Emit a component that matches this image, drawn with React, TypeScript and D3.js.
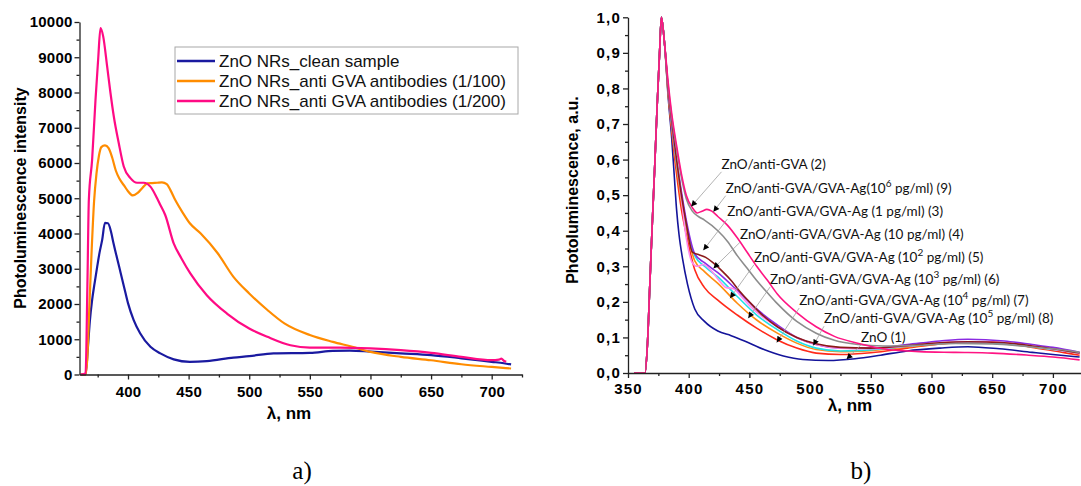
import React, { useEffect, useRef } from 'react';
import * as d3 from 'd3';

const W = 1081;
const H = 486;

// ---- panel a) : raw PL intensity, [wavelength nm, intensity]
const cleanSample = [
    [361, 0], [365, 0], [367, 800], [368.5, 1500], [370.4, 2110], [372.5, 2600], [374.6, 3060], [376.5, 3450],
    [378.7, 3820], [381, 4300], [383.5, 4290], [386, 4050], [388, 3730], [391, 3300], [394, 2875], [397, 2450],
    [400, 2025], [404.7, 1545], [410, 1170], [418.5, 785], [426.7, 600], [437.7, 430], [451, 360], [465, 380],
    [487, 480], [500, 520], [520, 600], [550, 615], [569, 670], [583, 680], [600, 650], [625, 600], [650, 550],
    [675, 460], [700, 360], [710, 320], [716, 285]
];
const antiGva100 = [
    [361, 0], [365, 0], [366.5, 500], [368, 1800], [370, 3500], [372, 4900], [374, 5700], [376, 6200], [378, 6450],
    [381, 6500], [384, 6420], [387, 6150], [390, 5780], [393, 5550], [397, 5350], [400, 5200], [404, 5080],
    [408, 5150], [412, 5300], [416, 5420], [420, 5430], [424, 5440], [428, 5450], [432, 5400], [435, 5230],
    [439, 4950], [445, 4600], [451, 4290], [460, 4000], [474, 3440], [487, 2770], [500, 2300], [515, 1830],
    [529, 1450], [550, 1120], [569, 925], [585, 785], [600, 640], [625, 500], [650, 405], [675, 290], [700, 215],
    [716, 170]
];
const antiGva200 = [
    [361, 0], [365, 30], [366.5, 2500], [367.7, 4950], [370.4, 6090], [373.2, 7790], [375.5, 9000], [377.3, 9830],
    [379.5, 9600], [382.8, 8740], [385.5, 8000], [388.3, 7320], [392.4, 6560], [396.5, 5900], [402, 5570],
    [407.5, 5440], [413, 5440], [418.5, 5330], [424, 5000], [426.7, 4810], [430.7, 4525], [437.7, 3720],
    [444, 3300], [451.4, 2870], [465, 2250], [481.6, 1730], [500, 1305], [515, 1070], [534, 830], [550, 765],
    [575, 765], [600, 740], [625, 690], [650, 615], [675, 500], [700, 405], [706, 420], [708, 450], [710, 390],
    [712, 360]
];
const seriesA = [cleanSample, antiGva100, antiGva200];
const legendA = ['ZnO NRs_clean sample', 'ZnO NRs_anti GVA antibodies (1/100)', 'ZnO NRs_anti GVA antibodies (1/200)'];
const colorsA = ['#1a1aa0', '#ff8c00', '#ff0a84'];
const xTicksA = [400, 450, 500, 550, 600, 650, 700];
const xMinorA = [375, 425, 475, 525, 575, 625, 675, 725];
const yTicksA = [0, 1000, 2000, 3000, 4000, 5000, 6000, 7000, 8000, 9000, 10000];
const yMinorA = [500, 1500, 2500, 3500, 4500, 5500, 6500, 7500, 8500, 9500];

// ---- panel b) : normalised PL, [wavelength nm, a.u.]
const rise = [[355, 0], [364, 0], [366, 0.08], [368, 0.25], [370, 0.42], [372, 0.58], [374, 0.75], [376, 0.9], [377.5, 1.0], [380, 0.93]];
const zno1 = [...rise, [383, 0.78], [386, 0.66], [388, 0.56], [390, 0.46], [392, 0.39], [395, 0.32], [399, 0.25], [405, 0.18], [413, 0.145], [424, 0.118], [435, 0.105], [446, 0.09], [462, 0.066], [478, 0.048], [494, 0.038], [515, 0.035], [537, 0.04], [558, 0.05], [580, 0.062], [607, 0.07], [630, 0.074], [656, 0.068], [683, 0.058], [700, 0.052], [722, 0.045]];
const redCurve = [...rise, [383, 0.79], [386, 0.68], [390, 0.56], [394, 0.46], [398, 0.39], [405, 0.29], [413, 0.24], [424, 0.205], [440, 0.163], [456, 0.126], [473, 0.093], [489, 0.07], [505, 0.056], [525, 0.052], [550, 0.057], [580, 0.07], [607, 0.082], [630, 0.087], [645, 0.088], [665, 0.083], [683, 0.072], [700, 0.063], [722, 0.05]];
const orangeCurve = [...rise, [383, 0.79], [386, 0.69], [390, 0.58], [394, 0.48], [398, 0.41], [405, 0.315], [413, 0.285], [424, 0.252], [440, 0.196], [456, 0.149], [473, 0.112], [489, 0.084], [505, 0.066], [525, 0.06], [550, 0.063], [580, 0.073], [607, 0.082], [630, 0.086], [660, 0.082], [683, 0.073], [700, 0.066], [722, 0.055]];
const cyanCurve = [...rise, [383, 0.8], [386, 0.7], [390, 0.59], [394, 0.5], [398, 0.42], [405, 0.33], [413, 0.3], [424, 0.27], [440, 0.215], [456, 0.163], [473, 0.122], [489, 0.09], [505, 0.07], [525, 0.062], [550, 0.065], [580, 0.075], [607, 0.083], [630, 0.086], [660, 0.082], [683, 0.074], [700, 0.066], [722, 0.056]];
const purpleCurve = [...rise, [383, 0.8], [386, 0.7], [390, 0.6], [394, 0.51], [398, 0.43], [405, 0.335], [413, 0.31], [424, 0.282], [440, 0.232], [456, 0.18], [473, 0.135], [489, 0.1], [505, 0.08], [525, 0.07], [550, 0.07], [580, 0.08], [607, 0.09], [630, 0.095], [660, 0.09], [683, 0.08], [700, 0.072], [722, 0.058]];
const violetCurve = [...rise, [383, 0.8], [386, 0.71], [390, 0.6], [394, 0.49], [398, 0.38], [403, 0.31], [407, 0.3], [412, 0.305], [418, 0.29], [425, 0.26], [431, 0.24], [437, 0.237], [442, 0.22], [450, 0.19], [460, 0.16], [473, 0.13], [489, 0.1], [505, 0.08], [525, 0.07], [550, 0.068], [580, 0.076], [607, 0.085], [630, 0.088], [660, 0.085], [683, 0.075], [700, 0.067], [722, 0.055]];
const brownCurve = [...rise, [383, 0.8], [386, 0.71], [390, 0.6], [394, 0.5], [398, 0.42], [403, 0.34], [408, 0.333], [414, 0.325], [420, 0.31], [428, 0.285], [435, 0.26], [442, 0.23], [450, 0.2], [460, 0.165], [473, 0.13], [489, 0.1], [505, 0.082], [525, 0.072], [550, 0.07], [580, 0.077], [607, 0.085], [630, 0.088], [660, 0.085], [683, 0.076], [700, 0.068], [722, 0.056]];
const grayCurve = [...rise, [383, 0.81], [386, 0.72], [390, 0.63], [394, 0.55], [398, 0.49], [403, 0.455], [408, 0.44], [413, 0.43], [424, 0.4], [432, 0.37], [440, 0.33], [448, 0.295], [456, 0.26], [465, 0.225], [473, 0.195], [489, 0.145], [505, 0.112], [520, 0.092], [540, 0.08], [560, 0.076], [590, 0.078], [620, 0.083], [650, 0.082], [680, 0.074], [700, 0.068], [722, 0.058]];
const magentaCurve = [...rise, [383, 0.82], [386, 0.73], [390, 0.64], [394, 0.56], [398, 0.5], [403, 0.465], [407, 0.45], [411, 0.455], [415, 0.46], [419, 0.455], [424, 0.44], [432, 0.415], [440, 0.38], [448, 0.34], [456, 0.3], [465, 0.26], [473, 0.222], [489, 0.17], [505, 0.13], [520, 0.103], [540, 0.083], [560, 0.068], [590, 0.06], [620, 0.058], [650, 0.056], [680, 0.05], [700, 0.045], [722, 0.037]];
const seriesB = [zno1, redCurve, orangeCurve, cyanCurve, purpleCurve, violetCurve, brownCurve, grayCurve, magentaCurve];
const colorsB = ['#14149a', '#ff2a1a', '#ff8c10', '#22e0e8', '#8a2be2', '#ff88ee', '#8b1a1a', '#8c8c8c', '#ff1483'];
const xTicksB = [350, 400, 450, 500, 550, 600, 650, 700];
const xMinorB = [375, 425, 475, 525, 575, 625, 675];
const yTicksB = [0, 0.1, 0.2, 0.3, 0.4, 0.5, 0.6, 0.7, 0.8, 0.9, 1.0];
const yMinorB = [0.05, 0.15, 0.25, 0.35, 0.45, 0.55, 0.65, 0.75, 0.85, 0.95];

// labels with leader lines, anchor and arrow tip in data units
const notesB = [
    { pre: 'ZnO/anti-GVA (2)', sup: '', post: '', at: [427, 0.574], tip: [402, 0.468] },
    { pre: 'ZnO/anti-GVA/GVA-Ag(10', sup: '6', post: ' pg/ml) (9)', at: [430.5, 0.507], tip: [420.3, 0.453] },
    { pre: 'ZnO/anti-GVA/GVA-Ag (1 pg/ml) (3)', sup: '', post: '', at: [431.8, 0.441], tip: [412, 0.345] },
    { pre: 'ZnO/anti-GVA/GVA-Ag (10 pg/ml) (4)', sup: '', post: '', at: [442.3, 0.376], tip: [420.3, 0.294] },
    { pre: 'ZnO/anti-GVA/GVA-Ag (10', sup: '2', post: ' pg/ml) (5)', at: [453.8, 0.313], tip: [434, 0.21] },
    { pre: 'ZnO/anti-GVA/GVA-Ag (10', sup: '3', post: ' pg/ml) (6)', at: [467, 0.25], tip: [449, 0.154] },
    { pre: 'ZnO/anti-GVA/GVA-Ag (10', sup: '4', post: ' pg/ml) (7)', at: [491, 0.191], tip: [472.5, 0.086] },
    { pre: 'ZnO/anti-GVA/GVA-Ag (10', sup: '5', post: ' pg/ml) (8)', at: [511.5, 0.14], tip: [502.6, 0.077] },
    { pre: 'ZnO (1)', sup: '', post: '', at: [542, 0.088], tip: [530, 0.0385] },
];

const SANS = '"Liberation Sans", Arial, sans-serif';

function drawAxes(svg, x, y, opts) {
    const { x0, y0, xTicks, xMinor, yTicks, yMinor, yFmt, xPad, yPad, fontSize, spacing } = opts;
    const style = g => {
        g.selectAll('path.domain').attr('stroke', '#222').attr('stroke-width', 1.3);
        g.selectAll('.tick line').attr('stroke', '#222').attr('stroke-width', 1.3);
        g.selectAll('text')
            .attr('fill', '#000')
            .style('font-family', SANS)
            .style('font-weight', 'bold')
            .style('font-size', fontSize + 'px')
            .style('letter-spacing', spacing + 'px');
    };
    svg.append('g').attr('transform', `translate(0,${y0})`)
        .call(d3.axisBottom(x).tickValues(xMinor).tickSize(3).tickSizeOuter(0).tickFormat(() => ''))
        .call(g => g.select('.domain').remove()).call(style);
    svg.append('g').attr('transform', `translate(${x0},0)`)
        .call(d3.axisLeft(y).tickValues(yMinor).tickSize(3).tickSizeOuter(0).tickFormat(() => ''))
        .call(g => g.select('.domain').remove()).call(style);
    svg.append('g').attr('transform', `translate(0,${y0})`)
        .call(d3.axisBottom(x).tickValues(xTicks).tickSize(5).tickSizeOuter(0).tickPadding(xPad).tickFormat(d3.format('d')))
        .call(style);
    svg.append('g').attr('transform', `translate(${x0},0)`)
        .call(d3.axisLeft(y).tickValues(yTicks).tickSize(5).tickSizeOuter(0).tickPadding(yPad).tickFormat(yFmt))
        .call(style);
}

export default function App() {
    const svgRef = useRef(null);

    useEffect(() => {
        const svg = d3.select(svgRef.current);
        svg.selectAll('*').remove();

        // ================= panel a =================
        const xa = d3.scaleLinear().domain([360, 725]).range([79.5, 522]);
        const ya = d3.scaleLinear().domain([0, 10000]).range([374.5, 22]);
        const lineA = d3.line().x(d => xa(d[0])).y(d => ya(d[1])).curve(d3.curveMonotoneX);

        seriesA.forEach((s, i) => {
            svg.append('path').datum(s)
                .attr('d', lineA).attr('fill', 'none')
                .attr('stroke', colorsA[i]).attr('stroke-width', 2.2)
                .attr('stroke-linejoin', 'round');
        });

        drawAxes(svg, xa, ya, {
            x0: 79.5, y0: 374.5, xTicks: xTicksA, xMinor: xMinorA, yTicks: yTicksA, yMinor: yMinorA,
            yFmt: d3.format('d'), xPad: 7, yPad: 2, fontSize: 15, spacing: 0.2
        });

        // legend
        const leg = svg.append('g');
        leg.append('rect').attr('x', 175).attr('y', 47).attr('width', 343).attr('height', 67)
            .attr('fill', '#fff').attr('stroke', '#a8a8a8').attr('stroke-width', 1);
        legendA.forEach((name, i) => {
            const yy = 61 + i * 20;
            leg.append('line').attr('x1', 177).attr('x2', 215).attr('y1', yy).attr('y2', yy)
                .attr('stroke', colorsA[i]).attr('stroke-width', 2.5);
            leg.append('text').attr('x', 219).attr('y', yy).attr('dy', '0.36em')
                .style('font-family', SANS).style('font-size', '17px').attr('fill', '#111')
                .text(name);
        });

        svg.append('text')
            .attr('transform', 'translate(20,198) rotate(-90)')
            .attr('text-anchor', 'middle').attr('dy', '0.36em')
            .style('font-family', SANS).style('font-weight', 'bold').style('font-size', '16px')
            .text('Photoluminescence intensity');
        svg.append('text')
            .attr('x', 289).attr('y', 413).attr('text-anchor', 'middle').attr('dy', '0.36em')
            .style('font-family', SANS).style('font-weight', 'bold').style('font-size', '17px')
            .text('λ, nm');

        // ================= panel b =================
        const xb = d3.scaleLinear().domain([350, 725]).range([628, 628 + 375 * 1.214]);
        const yb = d3.scaleLinear().domain([0, 1]).range([373, 17.3]);
        const lineB = d3.line().x(d => xb(d[0])).y(d => yb(d[1])).curve(d3.curveMonotoneX);

        const defs = svg.append('defs');
        defs.append('clipPath').attr('id', 'clipb').append('rect')
            .attr('x', 628).attr('y', 0).attr('width', W - 628).attr('height', 380);
        defs.append('marker').attr('id', 'arrowhead')
            .attr('viewBox', '0 0 10 10').attr('refX', 10).attr('refY', 5)
            .attr('markerUnits', 'userSpaceOnUse').attr('markerWidth', 7).attr('markerHeight', 6)
            .attr('orient', 'auto')
            .append('path').attr('d', 'M0,0L10,5L0,10z').attr('fill', '#000');

        const gB = svg.append('g').attr('clip-path', 'url(#clipb)');
        seriesB.forEach((s, i) => {
            gB.append('path').datum(s)
                .attr('d', lineB).attr('fill', 'none')
                .attr('stroke', colorsB[i]).attr('stroke-width', 1.6)
                .attr('stroke-linejoin', 'round');
        });

        drawAxes(svg, xb, yb, {
            x0: 628, y0: 373, xTicks: xTicksB, xMinor: xMinorB, yTicks: yTicksB, yMinor: yMinorB,
            yFmt: d => d3.format('.1f')(d).replace('.', ','), xPad: 5, yPad: 2, fontSize: 15, spacing: 1.2
        });

        // annotations
        notesB.forEach(n => {
            const ax = xb(n.at[0]);
            const ay = yb(n.at[1]);
            svg.append('line')
                .attr('x1', ax).attr('y1', ay + 3)
                .attr('x2', xb(n.tip[0])).attr('y2', yb(n.tip[1]))
                .attr('stroke', '#a0a0a0').attr('stroke-width', 0.8)
                .attr('marker-end', 'url(#arrowhead)');
            const t = svg.append('text').attr('x', ax).attr('y', ay)
                .style('font-family', 'Lato, "Open Sans", sans-serif').style('font-size', '13.5px')
                .attr('fill', '#111');
            t.append('tspan').text(n.pre);
            if (n.sup) {
                t.append('tspan').attr('dy', -6).style('font-size', '10px').text(n.sup);
                t.append('tspan').attr('dy', 6).text(n.post);
            }
        });

        svg.append('text')
            .attr('transform', 'translate(572,190) rotate(-90)')
            .attr('text-anchor', 'middle').attr('dy', '0.36em')
            .style('font-family', SANS).style('font-weight', 'bold').style('font-size', '16px')
            .text('Photoluminescence, a.u.');
        svg.append('text')
            .attr('x', 850).attr('y', 405).attr('text-anchor', 'middle').attr('dy', '0.36em')
            .style('font-family', SANS).style('font-weight', 'bold').style('font-size', '17px')
            .text('λ, nm');

        // panel captions
        [['a)', 302], ['b)', 861]].forEach(([label, cx]) => {
            svg.append('text').attr('x', cx).attr('y', 479).attr('text-anchor', 'middle')
                .style('font-family', '"Liberation Serif", "Times New Roman", serif').style('font-size', '25px')
                .text(label);
        });
    }, []);

    return (
        <div style={{ width: W, height: H, background: '#fff' }}>
            <style>{'body{margin:0}'}</style>
            <svg ref={svgRef} width={W} height={H} style={{ display: 'block' }} />
        </div>
    );
}
